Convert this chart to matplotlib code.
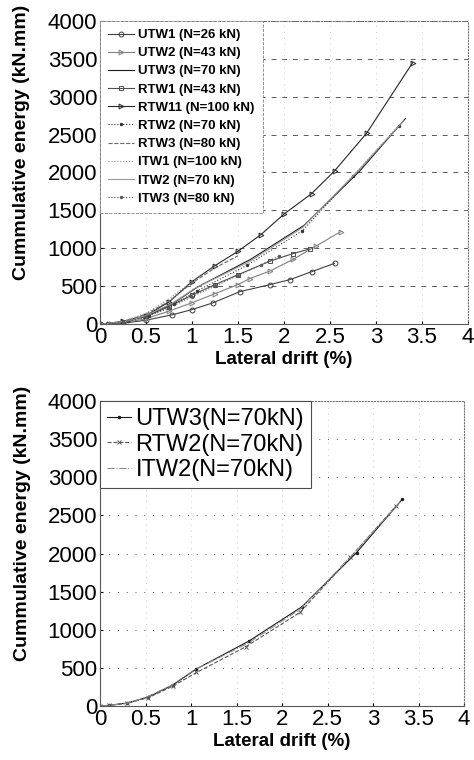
import numpy as np
import matplotlib
matplotlib.use('Agg')
import matplotlib.pyplot as plt

plt.rcParams['font.family'] = ['Liberation Sans', 'DejaVu Sans']

# ---- data (drift %, energy kN.mm) ----
utw1_x = [0, 0.25, 0.5, 0.78, 1.0, 1.23, 1.52, 1.85, 2.07, 2.3, 2.55]
utw1_y = [0, 10, 50, 120, 190, 280, 427, 520, 587, 690, 800]
utw2_x = [0, 0.25, 0.5, 0.75, 1.0, 1.25, 1.5, 1.63, 1.85, 2.1, 2.35, 2.62]
utw2_y = [0, 15, 70, 170, 280, 400, 520, 600, 700, 853, 1030, 1220]
utw3_x = [0, 0.1, 0.3, 0.53, 0.8, 1.06, 1.64, 2.22, 2.82, 3.32]
utw3_y = [0, 10, 40, 118, 276, 487, 855, 1303, 2013, 2710]
rtw1_x = [0, 0.25, 0.5, 0.75, 1.0, 1.25, 1.5, 1.85, 2.1, 2.28]
rtw1_y = [0, 25, 100, 230, 380, 520, 650, 830, 930, 990]
rtw11_x = [0, 0.1, 0.25, 0.5, 0.75, 1.0, 1.25, 1.5, 1.75, 2.0, 2.3, 2.55, 2.9, 3.4]
rtw11_y = [0, 5, 35, 110, 290, 560, 770, 960, 1180, 1450, 1720, 2020, 2520, 3450]
rtw2_x = [0, 0.1, 0.3, 0.53, 0.8, 1.06, 1.6, 2.2, 2.75, 3.25]
rtw2_y = [0, 8, 35, 110, 260, 440, 776, 1230, 1950, 2620]
rtw3_x = [0, 0.25, 0.5, 0.75, 1.0, 1.25, 1.5]
rtw3_y = [0, 30, 130, 300, 540, 740, 900]
itw1_x = [0, 0.25, 0.5, 0.75, 1.0, 1.1]
itw1_y = [0, 35, 140, 330, 560, 650]
itw2_x = [0, 0.1, 0.3, 0.5, 0.78, 1.03, 1.62, 2.2, 2.78, 3.3]
itw2_y = [0, 9, 38, 112, 268, 470, 820, 1270, 1990, 2680]
itw3_x = [0, 0.25, 0.5, 0.75, 1.0, 1.25, 1.5, 1.75, 1.95]
itw3_y = [0, 20, 90, 210, 360, 500, 640, 780, 900]

top_labels = ['UTW1 (N=26 kN)', 'UTW2 (N=43 kN)', 'UTW3 (N=70 kN)', 'RTW1 (N=43 kN)',
              'RTW11 (N=100 kN)', 'RTW2 (N=70 kN)', 'RTW3 (N=80 kN)', 'ITW1 (N=100 kN)',
              'ITW2 (N=70 kN)', 'ITW3 (N=80 kN)']
bot_labels = ['UTW3(N=70kN)', 'RTW2(N=70kN)', 'ITW2(N=70kN)']

top_series = [(utw1_x, utw1_y), (utw2_x, utw2_y), (utw3_x, utw3_y), (rtw1_x, rtw1_y),
              (rtw11_x, rtw11_y), (rtw2_x, rtw2_y), (rtw3_x, rtw3_y), (itw1_x, itw1_y),
              (itw2_x, itw2_y), (itw3_x, itw3_y)]
top_styles = [dict(ls='-', marker='o', mfc='none', color='0.25'),
              dict(ls='-', marker='>', mfc='none', color='0.5'),
              dict(ls='-', marker='', color='0.1'),
              dict(ls='-', marker='s', mfc='none', color='0.3'),
              dict(ls='-', marker='>', mfc='none', color='0.15'),
              dict(ls=':', marker='.', color='0.2'),
              dict(ls='--', marker='', color='0.4'),
              dict(ls=':', marker='', color='0.55'),
              dict(ls='-', marker='', color='0.6'),
              dict(ls=':', marker='.', color='0.35')]

bot_series = [(utw3_x, utw3_y), (rtw2_x, rtw2_y), (itw2_x, itw2_y)]
bot_styles = [dict(ls='-', marker='.', color='0.1'),
              dict(ls='--', marker='x', color='0.35'),
              dict(ls='-.', marker='', color='0.55')]

fig = plt.figure(figsize=(4.74, 7.6), dpi=100)
ax1 = fig.add_axes([0.211, 0.5737, 0.776, 0.3987])
ax2 = fig.add_axes([0.211, 0.071, 0.768, 0.4014])


def style_axes(ax, dashes):
    ax.set_xlim(0, 4)
    ax.set_ylim(0, 4000)
    ax.set_xticks(np.arange(0, 4.01, 0.5))
    ax.set_yticks(np.arange(0, 4001, 500))
    ax.set_xticklabels(['%g' % v for v in np.arange(0, 4.01, 0.5)])
    ax.tick_params(labelsize=16, length=2, direction='in', pad=2)
    ax.yaxis.grid(True, color='0.35', lw=0.7, dashes=dashes)
    ax.xaxis.grid(True, color='0.75', lw=0.6, dashes=(1, 6))
    ax.set_axisbelow(True)
    for s in ['top', 'right']:
        ax.spines[s].set_linestyle(':')
        ax.spines[s].set_color('0.45')
    for s in ['left', 'bottom']:
        ax.spines[s].set_color('0.35')
        ax.spines[s].set_linewidth(0.8)
    ax.set_xlabel('Lateral drift (%)', fontsize=13.5, fontweight='bold', labelpad=2)
    ax.set_ylabel('Cummulative energy (kN.mm)', fontsize=14, fontweight='bold')


style_axes(ax1, (5, 6))
for (x, y), lab, st in zip(top_series, top_labels, top_styles):
    ax1.plot(x, y, lw=0.8, ms=3.5, mew=0.7, label=lab, **st)
ax1.yaxis.set_label_coords(-0.19, 0.6)
leg1 = ax1.legend(loc='upper left', bbox_to_anchor=(0, 1), borderaxespad=0,
                  prop={'size': 9.5, 'weight': 'bold'}, handlelength=2.0,
                  labelspacing=0.45, borderpad=0.6, handletextpad=0.3,
                  fancybox=False, framealpha=1)
leg1.get_frame().set_edgecolor('0.5')
leg1.get_frame().set_linestyle('--')
leg1.get_frame().set_linewidth(0.6)

style_axes(ax2, (1, 8))
for (x, y), lab, st in zip(bot_series, bot_labels, bot_styles):
    ax2.plot(x, y, lw=0.8, ms=3.5, mew=0.7, label=lab, **st)
ax2.yaxis.set_label_coords(-0.19, 0.6)
leg2 = ax2.legend(loc='upper left', bbox_to_anchor=(0, 1), borderaxespad=0,
                  fontsize=17, handlelength=1.0, labelspacing=0.15,
                  borderpad=0.3, handletextpad=0.2, fancybox=False, framealpha=1)
leg2.get_frame().set_edgecolor('0.3')
leg2.get_frame().set_linewidth(0.8)

plt.savefig('out.png', dpi=100)
